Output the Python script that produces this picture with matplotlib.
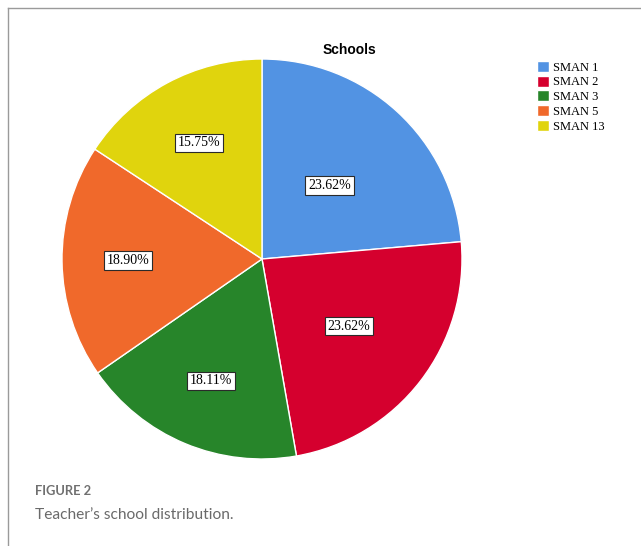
import matplotlib
matplotlib.use('Agg')
import matplotlib.pyplot as plt
from matplotlib.lines import Line2D
import numpy as np

# data
schools = ['SMAN 1', 'SMAN 2', 'SMAN 3', 'SMAN 5', 'SMAN 13']
counts = [30, 30, 23, 24, 20]
colors = ['#5293E3', '#D5002E', '#27852A', '#F0692B', '#E0D40D']

W, H = 641, 546
fig = plt.figure(figsize=(W / 100, H / 100), dpi=100)

# pie axes, placed in pixels (center ~ (262, 259), radius ~200)
cx, cy, r = 262, 259, 200
ax = fig.add_axes([(cx - r) / W, (H - cy - r) / H, 2 * r / W, 2 * r / H])
wedges, texts, autotexts = ax.pie(
    counts, colors=colors, startangle=90, counterclock=False,
    autopct='%.2f%%', pctdistance=0.5,
    wedgeprops=dict(edgecolor='white', linewidth=1))

# label distance from center, like the spss layout
label_dist = [0.50, 0.55, 0.66, 0.67, 0.66]
for w, t, d in zip(wedges, autotexts, label_dist):
    ang = np.deg2rad((w.theta1 + w.theta2) / 2)
    t.set_position((d * np.cos(ang), d * np.sin(ang)))
    t.set_family('Liberation Serif')
    t.set_fontsize(10)
    t.set_bbox(dict(boxstyle='square,pad=0.2', facecolor='white',
                    edgecolor='#2a2a2a', linewidth=0.8))
ax.set_xlim(-1, 1)
ax.set_ylim(-1, 1)
ax.set_aspect('equal')

# title
fig.text(349 / W, 1 - 50 / H, 'Schools', ha='center', va='center',
         fontsize=10, fontweight='bold', family='Liberation Sans')

# legend
fig.legend(wedges, schools, loc='upper left',
           bbox_to_anchor=(528 / W, 1 - 52 / H), frameon=False,
           prop=dict(family='Liberation Serif', size=9),
           handlelength=1.0, handleheight=1.0, handletextpad=0.3,
           labelspacing=0.15, borderpad=0.2)

# frame lines
fig.add_artist(Line2D([8 / W, 1], [1 - 8 / H, 1 - 8 / H], color='#9a9a9a', lw=1))
fig.add_artist(Line2D([8 / W, 8 / W], [0, 1 - 8 / H], color='#9a9a9a', lw=1))

# caption
fig.text(35 / W, 1 - 491 / H, 'FIGURE 2', ha='left', va='center',
         fontsize=9.3, color='#707070', family='Lato', fontweight='bold')
fig.text(35 / W, 1 - 515 / H, 'Teacher\u2019s school distribution.', ha='left',
         va='center', fontsize=11.2, color='#6a6a6a', family='Lato')

fig.savefig('out.png', dpi=100)
